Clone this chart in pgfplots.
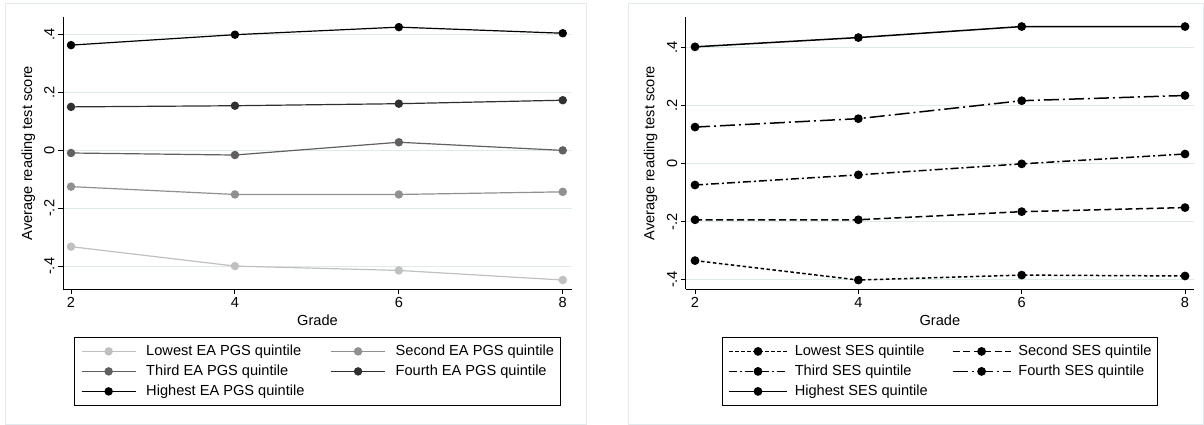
\documentclass[border=0pt]{standalone}
\usepackage{fontspec}
\setmainfont{Liberation Sans}
\usepackage{pgfplots}
\pgfplotsset{compat=1.18}
\definecolor{gridc}{RGB}{224,233,236}
\definecolor{framec}{RGB}{226,234,237}
\definecolor{gsA}{RGB}{192,192,192}
\definecolor{gsB}{RGB}{144,144,144}
\definecolor{gsC}{RGB}{96,96,96}
\definecolor{gsD}{RGB}{48,48,48}
\newcommand{\fsz}{\fontsize{14.6}{17.5}\selectfont}
\pgfplotsset{
  stbase/.style={
    scale only axis, height=272pt,
    axis lines*=left, axis line style={line width=0.9pt, black},
    tick align=outside, major tick length=5pt, tick style={black, line width=0.9pt},
    xtick={2,4,6,8}, xticklabels={2,4,6,8},
    ytick={-0.4,-0.2,0,0.2,0.4}, yticklabels={-.4,-.2,0,.2,.4},
    ymajorgrids, grid style={gridc, line width=0.9pt},
    tick label style={font=\fsz},
    label style={font=\fsz},
    yticklabel style={rotate=90, anchor=south},
    xlabel={Grade}, ylabel={Average reading test score},
    legend columns=2, legend cell align=left,
    clip=false,
  },
  mk/.style={mark=*, mark size=3.6pt, mark options={solid}},
}
\begin{document}
\begin{tikzpicture}[x=1pt,y=1pt]
\path[use as bounding box] (0,0) rectangle (1204,425);
\draw[framec, line width=0.9pt] (5,1) rectangle (586,422);
\draw[framec, line width=0.9pt] (628.3,1) rectangle (1203.5,422);

\begin{axis}[stbase, at={(63pt,136pt)}, anchor=south west, width=509pt,
  xmin=1.902, xmax=8.113, ymin=-0.478, ymax=0.46,
  ylabel style={at={(axis description cs:-0.0682,0.5)}, anchor=center, rotate=0},
  legend image code/.code={\draw[mark repeat=2,mark phase=2,#1] plot coordinates {(0pt,0pt) (27pt,0pt) (54pt,0pt)};},
  legend style={font=\fsz, draw=black, line width=0.8pt, at={(0.5,-0.1765)}, anchor=north,
    inner xsep=6.5pt, inner ysep=4pt, row sep=0pt,
    nodes={inner xsep=0pt, inner ysep=0pt, text height=14pt, text depth=6pt},
    /tikz/every odd column/.append style={column sep=10pt},
    /tikz/every even column/.append style={column sep=26pt}},
]
\addplot[gsA, line width=1.2pt, mk] coordinates {(2,-0.332) (4,-0.399) (6,-0.414) (8,-0.447)};
\addlegendentry{Lowest EA PGS quintile}
\addplot[gsB, line width=1.2pt, mk] coordinates {(2,-0.125) (4,-0.152) (6,-0.152) (8,-0.143)};
\addlegendentry{Second EA PGS quintile}
\addplot[gsC, line width=1.2pt, mk] coordinates {(2,-0.009) (4,-0.016) (6,0.028) (8,0.000)};
\addlegendentry{Third EA PGS quintile}
\addplot[gsD, line width=1.2pt, mk] coordinates {(2,0.150) (4,0.154) (6,0.161) (8,0.173)};
\addlegendentry{Fourth EA PGS quintile}
\addplot[black, line width=1.2pt, mk] coordinates {(2,0.363) (4,0.399) (6,0.425) (8,0.404)};
\addlegendentry{Highest EA PGS quintile}
\end{axis}

\begin{axis}[stbase, at={(685.7pt,136pt)}, anchor=south west, width=508.3pt,
  xmin=1.886, xmax=8.11, ymin=-0.433, ymax=0.506,
  ylabel style={at={(axis description cs:-0.0689,0.5)}, anchor=center, rotate=0},
  legend image code/.code={\draw[mark repeat=2,mark phase=2,#1] plot coordinates {(0pt,0pt) (29pt,0pt) (58pt,0pt)};},
  legend style={font=\fsz, draw=black, line width=0.8pt, at={(0.5,-0.1765)}, anchor=north,
    inner xsep=6pt, inner ysep=4pt, row sep=0pt,
    nodes={inner xsep=0pt, inner ysep=0pt, text height=14pt, text depth=6pt},
    /tikz/every odd column/.append style={column sep=7pt},
    /tikz/every even column/.append style={column sep=24pt}},
]
\addplot[black, line width=1.5pt, mk, dash pattern=on 3.5pt off 2.5pt] coordinates {(2,-0.335) (4,-0.402) (6,-0.385) (8,-0.388)};
\addlegendentry{Lowest SES quintile}
\addplot[black, line width=1.5pt, mk, dash pattern=on 7pt off 3.5pt] coordinates {(2,-0.194) (4,-0.194) (6,-0.166) (8,-0.152)};
\addlegendentry{Second SES quintile}
\addplot[black, line width=1.5pt, mk, dash pattern=on 8pt off 3pt on 2pt off 3pt] coordinates {(2,-0.074) (4,-0.039) (6,-0.001) (8,0.033)};
\addlegendentry{Third SES quintile}
\addplot[black, line width=1.5pt, mk, dash pattern=on 15pt off 4pt on 2pt off 4pt] coordinates {(2,0.126) (4,0.155) (6,0.217) (8,0.235)};
\addlegendentry{Fourth SES quintile}
\addplot[black, line width=1.5pt, mk] coordinates {(2,0.403) (4,0.435) (6,0.473) (8,0.473)};
\addlegendentry{Highest SES quintile}
\end{axis}
\end{tikzpicture}
\end{document}
